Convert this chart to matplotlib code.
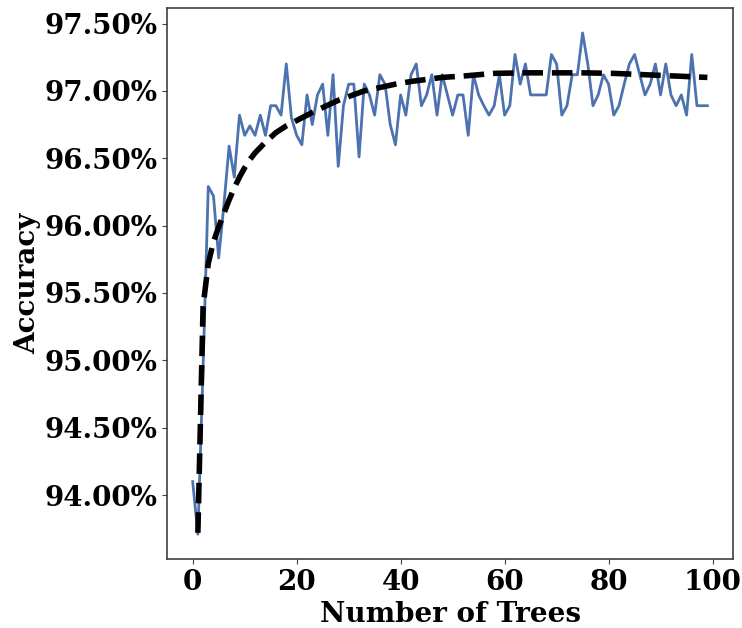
import numpy as np
import matplotlib
matplotlib.use("Agg")
import matplotlib.pyplot as plt
from matplotlib.ticker import PercentFormatter

# accuracy (%) per number of trees
n_trees = list(range(100))
accuracy = [
    94.10, 93.71, 94.95, 96.29, 96.22, 95.76, 96.15, 96.59, 96.36, 96.82,
    96.67, 96.74, 96.67, 96.82, 96.67, 96.89, 96.89, 96.82, 97.20, 96.80,
    96.67, 96.60, 96.97, 96.75, 96.97, 97.05, 96.67, 97.12, 96.44, 96.89,
    97.05, 97.05, 96.51, 97.05, 96.97, 96.82, 97.12, 97.05, 96.75, 96.60,
    96.97, 96.82, 97.12, 97.20, 96.89, 96.97, 97.12, 96.82, 97.12, 96.97,
    96.82, 96.97, 96.97, 96.67, 97.12, 96.97, 96.89, 96.82, 96.89, 97.12,
    96.82, 96.89, 97.27, 97.05, 97.20, 96.97, 96.97, 96.97, 96.97, 97.27,
    97.20, 96.82, 96.89, 97.12, 97.12, 97.43, 97.20, 96.89, 96.97, 97.12,
    97.05, 96.82, 96.89, 97.05, 97.20, 97.27, 97.12, 96.97, 97.05, 97.20,
    96.97, 97.20, 96.97, 96.89, 96.97, 96.82, 97.27, 96.89, 96.89, 96.89,
]

trend_x = [1, 2, 3, 4, 5, 6, 7, 8, 9, 10, 11, 12, 13, 14, 15, 16, 17, 18,
           19, 20, 23, 28, 33, 39, 42, 48, 52, 58, 64, 70, 75, 81, 87, 93, 99]
trend_y = [93.72, 95.40, 95.72, 95.88, 95.99, 96.09, 96.19, 96.28, 96.36,
           96.43, 96.49, 96.54, 96.58, 96.62, 96.655, 96.69, 96.715, 96.74,
           96.76, 96.78, 96.84, 96.93, 97.00, 97.05, 97.07, 97.10, 97.11,
           97.13, 97.134, 97.134, 97.134, 97.13, 97.12, 97.11, 97.10]

plt.rcParams["font.family"] = "DejaVu Serif"
plt.rcParams["font.weight"] = "bold"

fig = plt.figure(figsize=(7.42, 6.28), dpi=100)
ax = fig.add_axes([0.225, 0.110, 0.763, 0.877])

ax.plot(n_trees, accuracy, color="#4C72B0", linewidth=2)
ax.plot(trend_x, trend_y, color="black", linewidth=4, linestyle="--")

ax.yaxis.set_major_formatter(PercentFormatter(decimals=2))
ax.set_yticks([94.0, 94.5, 95.0, 95.5, 96.0, 96.5, 97.0, 97.5])
ax.set_xticks([0, 20, 40, 60, 80, 100])
ax.set_ylim(93.526, 97.614)

ax.set_xlabel("Number of Trees", fontsize=20, fontweight="bold", labelpad=4)
ax.set_ylabel("Accuracy", fontsize=20, fontweight="bold", labelpad=2)
ax.tick_params(labelsize=20, color="0.25")
for lab in ax.get_xticklabels() + ax.get_yticklabels():
    lab.set_fontweight("bold")
for s in ax.spines.values():
    s.set_color("0.25")
    s.set_linewidth(1.2)

fig.savefig("out.png", dpi=100)
